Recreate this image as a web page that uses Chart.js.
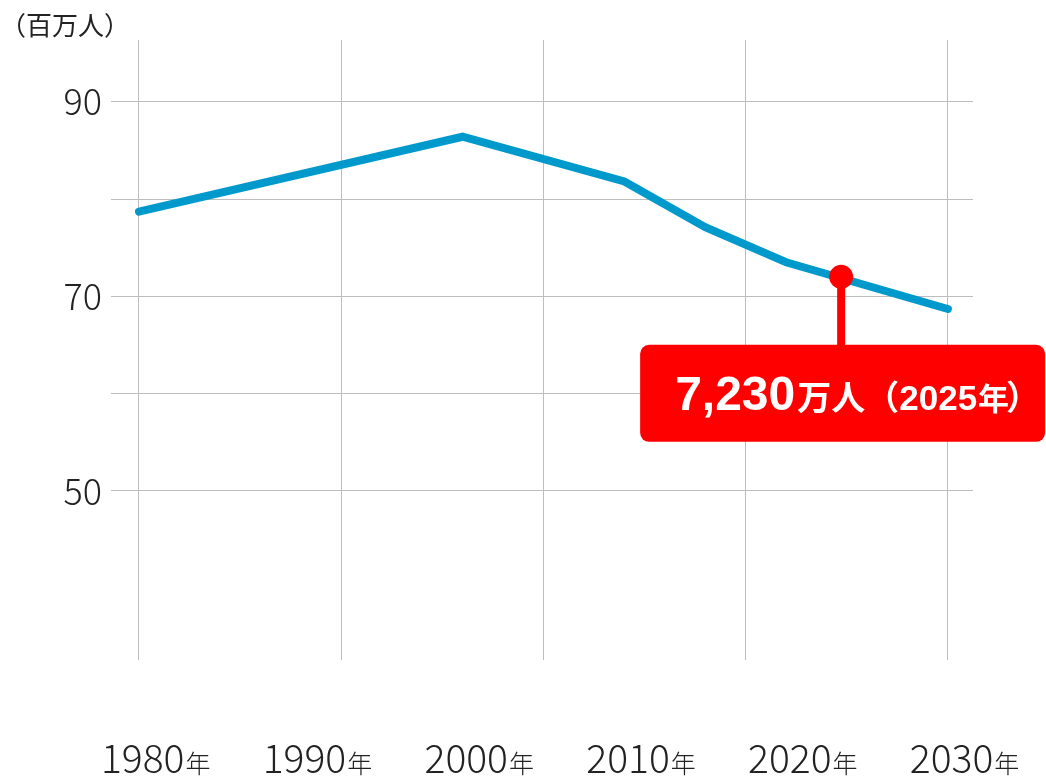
<!DOCTYPE html>
<html>
<head>
<meta charset="utf-8">
<script src="https://cdn.jsdelivr.net/npm/chart.js@4/dist/chart.umd.min.js"></script>
<style>
  body { margin: 0; background: #fff; }
  #wrap { width: 1046px; height: 778px; position: relative; }
</style>
</head>
<body>
<div id="wrap"><canvas id="pop"></canvas></div>
<script>
// working-age population, millions
var years = [1980, 2000, 2010, 2015, 2020, 2030];
var values = [78.7, 86.4, 81.8, 77.1, 73.5, 68.7];
var markYear = 2023.4;
var markValue = 72.0;
var xTickLabels = ['1980', '1990', '2000', '2010', '2020', '2030'];
var gridYears = [1980, 1992.5, 2005, 2017.5, 2030];
var yGrid = [50, 60, 70, 80, 90];
var unitLabel = '（百万人）';
var calloutNum = '7,230';
var calloutUnit = '万人';
var calloutYear = '2025';

var jp = '"Noto Sans CJK JP", "Noto Sans", sans-serif';

var extras = {
  id: 'extras',
  afterDatasetsDraw: function(chart) {
    var ctx = chart.ctx;
    var x = chart.scales.x, y = chart.scales.y;
    var px = x.getPixelForValue(markYear), py = y.getPixelForValue(markValue);
    var bx = px - 201, by = py + 68, bw = 405, bh = 97;
    ctx.save();
    // stem
    ctx.fillStyle = '#ff0000';
    ctx.fillRect(px - 4, py, 8, by - py + 2);
    // box
    ctx.beginPath();
    ctx.roundRect(bx, by, bw, bh, 9);
    ctx.fill();
    // text
    ctx.fillStyle = '#fff';
    ctx.textBaseline = 'alphabetic';
    var tx = bx + 35, ty = by + 65;
    ctx.font = 'bold 48px "Liberation Sans", Arial, sans-serif';
    ctx.fillText(calloutNum, tx, ty);
    tx += ctx.measureText(calloutNum).width + 2;
    ctx.font = 'bold 34px ' + jp;
    ctx.fillText(calloutUnit, tx, ty);
    tx += ctx.measureText(calloutUnit).width;
    ctx.fillText('（', tx, ty);
    tx += ctx.measureText('（').width;
    ctx.font = 'bold 35px "Liberation Sans", Arial, sans-serif';
    ctx.fillText(calloutYear, tx, ty);
    tx += ctx.measureText(calloutYear).width + 1;
    ctx.font = 'bold 31px ' + jp;
    ctx.fillText('年', tx, ty);
    tx += ctx.measureText('年').width;
    ctx.font = 'bold 34px ' + jp;
    ctx.fillText('）', tx - 3, ty);
    ctx.restore();
  },
  afterDraw: function(chart) {
    var ctx = chart.ctx;
    var x = chart.scales.x;
    ctx.save();
    ctx.fillStyle = '#222';
    // unit label
    ctx.font = '26px ' + jp;
    ctx.textBaseline = 'middle';
    ctx.textAlign = 'left';
    ctx.fillText(unitLabel, 0, 25);
    // year labels with small 年
    ctx.textBaseline = 'alphabetic';
    xTickLabels.forEach(function(lab) {
      var cx = x.getPixelForValue(Number(lab) + 1);
      ctx.font = '300 39px ' + jp;
      var w1 = ctx.measureText(lab).width;
      ctx.font = '300 25px ' + jp;
      var w2 = ctx.measureText('年').width;
      var sx = cx - (w1 + w2) / 2;
      ctx.font = '300 39px ' + jp;
      ctx.fillText(lab, sx, 773);
      ctx.font = '300 25px ' + jp;
      ctx.fillText('年', sx + w1 + 1, 773);
    });
    ctx.restore();
  }
};

new Chart(document.getElementById('pop'), {
  type: 'line',
  data: {
    datasets: [
      {
        data: [{x: markYear, y: markValue}],
        showLine: false,
        pointRadius: 12,
        pointBackgroundColor: '#ff0000',
        pointBorderWidth: 0,
        order: 0
      },
      {
        data: years.map(function(yr, i) { return {x: yr, y: values[i]}; }),
        borderColor: '#0099cc',
        borderWidth: 8,
        borderCapStyle: 'round',
        tension: 0,
        pointRadius: 0,
        order: 1
      }
    ]
  },
  options: {
    responsive: true,
    maintainAspectRatio: false,
    animation: false,
    layout: { padding: { top: 40, right: 73, left: 0, bottom: 0 } },
    plugins: { legend: { display: false }, tooltip: { enabled: false } },
    scales: {
      x: {
        type: 'linear',
        min: 1978.27,
        max: 2031.55,
        afterBuildTicks: function(s) { s.ticks = gridYears.map(function(v) { return {value: v}; }); },
        afterFit: function(s) { s.height = 118; },
        ticks: { display: false },
        grid: { color: '#bdbdbd', lineWidth: 1, drawTicks: false },
        border: { display: false }
      },
      y: {
        min: 32.63,
        max: 96.34,
        afterBuildTicks: function(s) { s.ticks = yGrid.map(function(v) { return {value: v}; }); },
        afterFit: function(s) { s.width = 111; },
        ticks: {
          padding: 9,
          color: '#222',
          font: { family: jp, size: 36, weight: '300' },
          callback: function(v) { return v % 20 === 10 ? String(v) : ''; }
        },
        grid: { color: '#bdbdbd', lineWidth: 1, drawTicks: false },
        border: { display: false }
      }
    }
  },
  plugins: [extras]
});
</script>
</body>
</html>
